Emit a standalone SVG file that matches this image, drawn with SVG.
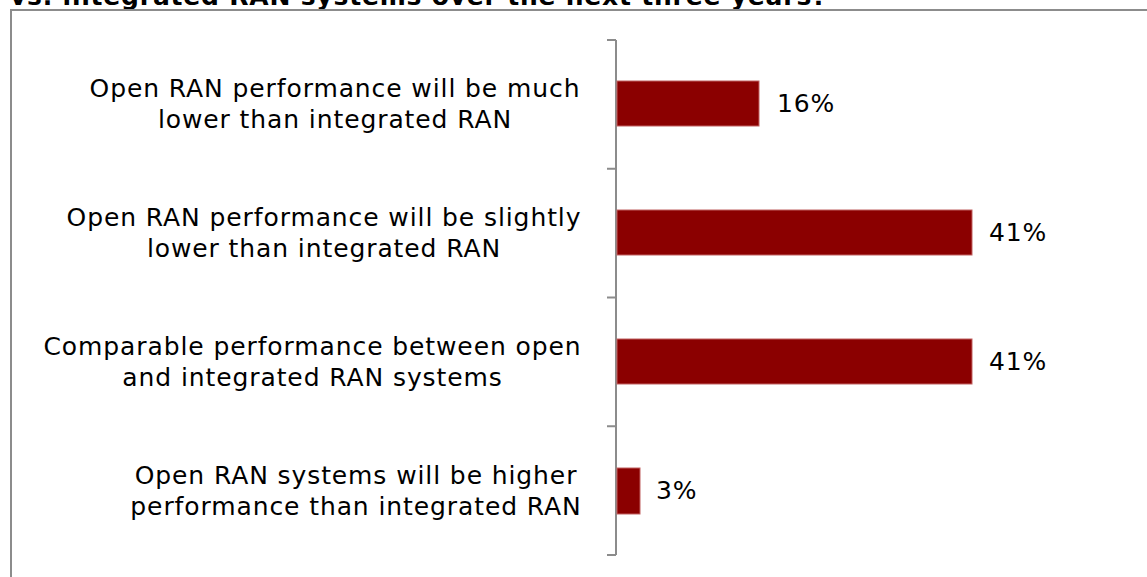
<svg xmlns="http://www.w3.org/2000/svg" width="1147" height="577" viewBox="0 0 1147 577">
<style>
.lbl{font-family:"DejaVu Sans",Verdana,sans-serif;font-size:25px;letter-spacing:0.9px;fill:#000;}
.cat{text-anchor:middle;}
.title{font-family:"DejaVu Sans",Verdana,sans-serif;font-size:25px;letter-spacing:0.8px;font-weight:bold;fill:#000;}
.bar{fill:#8b0000;stroke:#c06060;stroke-width:1;}
.axis{stroke:#8c8c8c;stroke-width:2;fill:none;}
</style>
<rect width="1147" height="577" fill="#fff"/>
<text class="title" x="10" y="5">vs. integrated RAN systems over the next three years?</text>
<path d="M11,577 V10 H1147" fill="none" stroke="#8c8c8c" stroke-width="2"/>
<g id="axis">
<path class="axis" d="M616,40 V555 M607,40 H616 M607,168.75 H616 M607,297.5 H616 M607,426.25 H616 M607,555 H616"/>
</g>
<g id="cat1">
<text class="lbl cat" x="335" y="97">Open RAN performance will be much</text>
<text class="lbl cat" x="335" y="128">lower than integrated RAN</text>
<rect class="bar" x="617" y="81" width="142" height="45"/>
<text class="lbl" x="777" y="112">16%</text>
</g>
<g id="cat2">
<text class="lbl cat" x="324" y="226">Open RAN performance will be slightly</text>
<text class="lbl cat" x="324" y="257">lower than integrated RAN</text>
<rect class="bar" x="617" y="210" width="355" height="45"/>
<text class="lbl" x="989" y="241">41%</text>
</g>
<g id="cat3">
<text class="lbl cat" x="312.5" y="355">Comparable performance between open</text>
<text class="lbl cat" x="312.5" y="386">and integrated RAN systems</text>
<rect class="bar" x="617" y="339" width="355" height="45"/>
<text class="lbl" x="989" y="370">41%</text>
</g>
<g id="cat4">
<text class="lbl cat" x="356" y="484">Open RAN systems will be higher</text>
<text class="lbl cat" x="356" y="515">performance than integrated RAN</text>
<rect class="bar" x="617" y="468" width="23" height="46"/>
<text class="lbl" x="656" y="499">3%</text>
</g>
<g id="connectors"></g>
</svg>
